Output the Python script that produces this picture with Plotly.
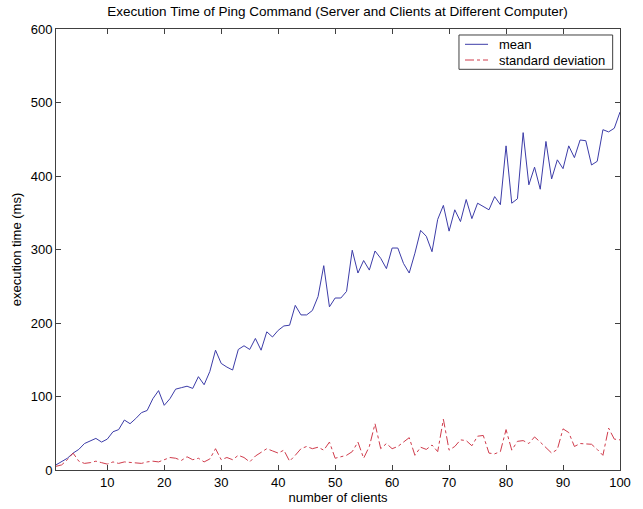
import plotly.graph_objects as go

clients = list(range(1, 101))

mean_ms = [7, 11, 16, 23, 28, 36, 40, 43, 38, 42,
           52, 55, 68, 63, 70, 78, 81, 97, 108, 88,
           97, 110, 112, 114, 111, 127, 116, 134, 163, 145,
           140, 136, 164, 169, 164, 179, 163, 188, 181, 190,
           196, 197, 224, 211, 211, 217, 236, 278, 222, 234,
           234, 243, 299, 268, 285, 272, 298, 288, 274, 302,
           302, 281, 268, 295, 326, 318, 297, 341, 360, 325,
           354, 338, 368, 342, 363, 359, 354, 372, 361, 441,
           363, 369, 459, 388, 412, 382, 447, 396, 422, 410,
           441, 425, 449, 448, 415, 420, 463, 460, 465, 487]

std_ms = [5, 7, 14, 23, 12, 9, 10, 12, 10, 8,
          11, 9, 11, 10, 10, 9, 11, 12, 11, 14,
          17, 16, 13, 18, 14, 16, 11, 15, 29, 14,
          17, 14, 20, 17, 11, 19, 24, 29, 26, 23,
          27, 12, 20, 29, 32, 29, 31, 27, 38, 16,
          18, 20, 25, 38, 16, 32, 63, 29, 36, 29,
          32, 38, 44, 20, 31, 28, 34, 25, 69, 27,
          32, 41, 40, 33, 46, 47, 23, 22, 25, 55,
          27, 39, 40, 36, 45, 38, 31, 23, 28, 56,
          51, 32, 36, 36, 35, 28, 20, 57, 42, 41]

x_ticks = [10, 20, 30, 40, 50, 60, 70, 80, 90, 100]
y_ticks = [0, 100, 200, 300, 400, 500, 600]

series_names = ["mean", "standard deviation"]
series_colors = ["#3c3ca8", "#d03c4c"]
series_dash = ["solid", "dashdot"]

FONT = "Liberation Sans, Arial, sans-serif"
AXC = "#404040"

fig = go.Figure()
for name, vals, col, dash in zip(series_names, [mean_ms, std_ms], series_colors, series_dash):
    fig.add_trace(go.Scatter(x=clients, y=vals, mode="lines", name=name,
                             line=dict(color=col, width=1, dash=dash), showlegend=False))

axis_common = dict(showline=True, linecolor=AXC, linewidth=1, mirror="ticks",
                   ticks="inside", ticklen=5, tickcolor=AXC, showgrid=False,
                   zeroline=False, automargin=False,
                   tickfont=dict(family=FONT, size=13, color="#000000"))

# legend box drawn in paper coordinates (MATLAB-style compact legend)
lx0, lx1, ly0, ly1 = 0.7145, 0.987, 0.9086, 0.9864
row_y = [0.9653, 0.9297]
shapes = [dict(type="rect", xref="paper", yref="paper", x0=lx0, x1=lx1, y0=ly0, y1=ly1,
               line=dict(color=AXC, width=1), fillcolor="white", layer="above")]
annotations = []
for name, col, dash, yy in zip(series_names, series_colors, series_dash, row_y):
    shapes.append(dict(type="line", xref="paper", yref="paper", x0=0.7252, x1=0.766,
                       y0=yy, y1=yy, line=dict(color=col, width=1, dash=dash), layer="above"))
    annotations.append(dict(text=name, xref="paper", yref="paper", x=0.7819, y=yy,
                            xanchor="left", yanchor="middle", showarrow=False,
                            font=dict(family=FONT, size=13, color="#000000")))

fig.update_layout(
    width=643, height=509,
    paper_bgcolor="white", plot_bgcolor="white",
    margin=dict(l=56, r=23, t=29, b=39),
    title=dict(text="Execution Time of Ping Command (Server and Clients at Different Computer)",
               x=0.525, xanchor="center", y=0.987, yanchor="top",
               font=dict(family=FONT, size=13.5, color="#000000")),
    xaxis=dict(range=[1, 100], tickvals=x_ticks,
               title=dict(text="number of clients", standoff=3,
                          font=dict(family=FONT, size=13, color="#000000")),
               **axis_common),
    yaxis=dict(range=[0, 600], tickvals=y_ticks,
               title=dict(text="execution time (ms)", standoff=6,
                          font=dict(family=FONT, size=13, color="#000000")),
               **axis_common),
    shapes=shapes,
    annotations=annotations,
    showlegend=False,
)

fig.write_html("out.html")
